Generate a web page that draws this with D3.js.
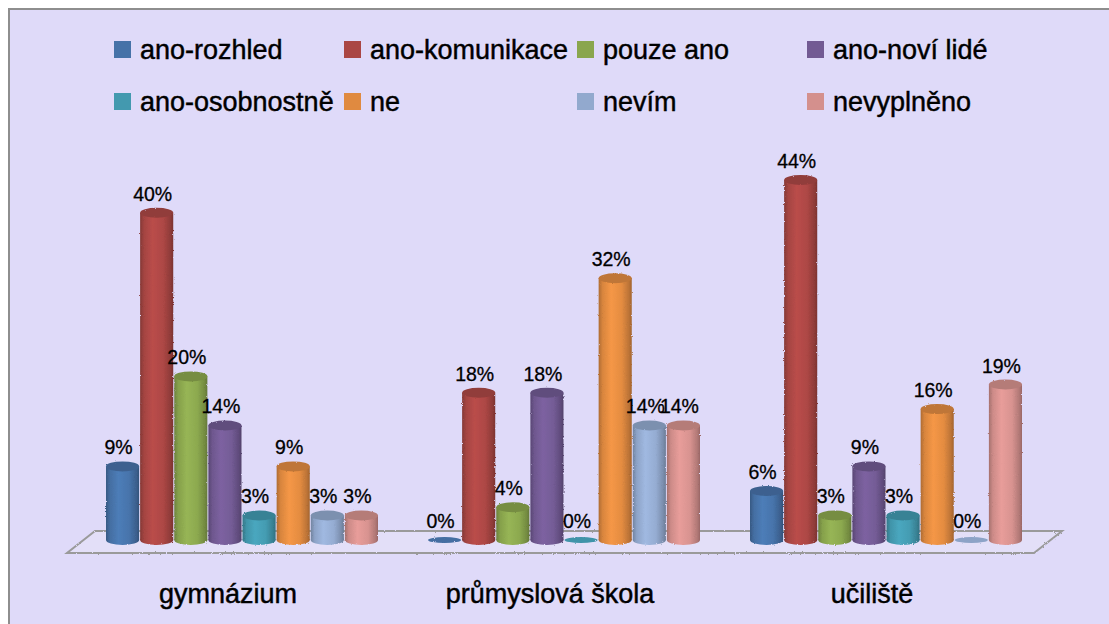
<!DOCTYPE html>
<html>
<head>
<meta charset="utf-8">
<script src="https://d3js.org/d3.v7.min.js"></script>
<style>
  body { margin: 0; background: #fff; }
  text { font-family: "Liberation Sans", Arial, sans-serif; fill: #000; stroke: #000; stroke-width: 0.45px; }
</style>
</head>
<body>
<div id="chart"></div>
<script>
// data
var categories = ['gymnázium', 'průmyslová škola', 'učiliště']
var series = ['ano-rozhled', 'ano-komunikace', 'pouze ano', 'ano-noví lidé',
  'ano-osobnostně', 'ne', 'nevím', 'nevyplněno']
var colors = ['#4672A8', '#AA4644', '#8AA64E', '#725A93', '#4399AF', '#E08A40', '#92A9CE', '#D4908D']

// values per series, in category order
var anoRozhled    = [0.09, 0.00, 0.06]
var anoKomunikace = [0.40, 0.18, 0.44]
var pouzeAno      = [0.20, 0.04, 0.03]
var anoNoviLide   = [0.14, 0.18, 0.09]
var anoOsobnostne = [0.03, 0.00, 0.03]
var ne            = [0.09, 0.32, 0.16]
var nevim         = [0.03, 0.14, 0.00]
var nevyplneno    = [0.03, 0.14, 0.19]
var values = [anoRozhled, anoKomunikace, pouzeAno, anoNoviLide, anoOsobnostne, ne, nevim, nevyplneno]

var width = 1109, height = 624

var svg = d3.select('#chart').append('svg')
  .attr('width', width)
  .attr('height', height)

// frame
svg.append('rect')
  .attr('x', 9).attr('y', 9)
  .attr('width', width + 10).attr('height', height + 10)
  .style('fill', '#DFDAF9')
  .style('stroke', '#8E8E8E')
  .style('stroke-width', 2)

var defs = svg.append('defs')

// rough soft edge around bars and floor
var rough = defs.append('filter').attr('id', 'rough')
  .attr('x', '-20%').attr('y', '-20%').attr('width', '140%').attr('height', '140%')
rough.append('feTurbulence').attr('type', 'fractalNoise').attr('baseFrequency', 0.9)
  .attr('numOctaves', 1).attr('result', 'noise')
rough.append('feDisplacementMap').attr('in', 'SourceGraphic').attr('in2', 'noise')
  .attr('scale', 2.5)

series.forEach(function(s, i) {
  var c = d3.rgb(colors[i])
  var g = defs.append('linearGradient').attr('id', 'cyl' + i)
    .attr('x1', '0%').attr('x2', '100%').attr('y1', '0%').attr('y2', '0%')
  g.append('stop').attr('offset', '0%').attr('stop-color', c.darker(0.7))
  g.append('stop').attr('offset', '12%').attr('stop-color', c.darker(0.1))
  g.append('stop').attr('offset', '38%').attr('stop-color', c.brighter(0.25))
  g.append('stop').attr('offset', '70%').attr('stop-color', c.brighter(0.05))
  g.append('stop').attr('offset', '92%').attr('stop-color', c.darker(0.5))
  g.append('stop').attr('offset', '100%').attr('stop-color', c.darker(0.9))
})

// scales
var x0 = d3.scaleBand().domain(categories).range([81, 1047])
var groupW = 272
var x1 = d3.scaleBand().domain(series).range([0, groupW]).paddingInner(0.03)
var y = d3.scaleLinear().domain([0, 0.5]).range([540, 131])
var ry = 5

// floor
var floorBack = 531, floorFront = 553, floorShift = 28
var floor = d3.path()
floor.moveTo(95, floorBack)
floor.lineTo(1062, floorBack)
floor.lineTo(1062 - floorShift, floorFront)
floor.lineTo(95 - floorShift, floorFront)
floor.closePath()
svg.append('path')
  .attr('d', floor.toString())
  .style('fill', '#E3DFF8')
  .style('stroke', '#9A9A9A')
  .style('stroke-width', 2)
  .attr('filter', 'url(#rough)')

// bars
var bars = []
categories.forEach(function(cat, ci) {
  series.forEach(function(s, si) {
    bars.push({cat: cat, s: s, si: si, v: values[si][ci]})
  })
})

function barX(d) { return x0(d.cat) + (x0.bandwidth() - groupW) / 2 + x1(d.s) }
var bw = x1.bandwidth()

var g = svg.selectAll('.bar').data(bars).enter().append('g')
  .attr('class', 'bar')
  .attr('filter', 'url(#rough)')

g.filter(function(d) { return d.v > 0 }).append('ellipse')
  .attr('cx', function(d) { return barX(d) + bw / 2 })
  .attr('cy', y(0))
  .attr('rx', bw / 2).attr('ry', ry)
  .style('fill', function(d) { return 'url(#cyl' + d.si + ')' })

g.filter(function(d) { return d.v > 0 }).append('rect')
  .attr('x', barX)
  .attr('y', function(d) { return y(d.v) })
  .attr('width', bw)
  .attr('height', function(d) { return y(0) - y(d.v) })
  .style('fill', function(d) { return 'url(#cyl' + d.si + ')' })

g.append('ellipse')
  .attr('cx', function(d) { return barX(d) + bw / 2 })
  .attr('cy', function(d) { return y(d.v) })
  .attr('rx', bw / 2)
  .attr('ry', function(d) { return d.v > 0 ? ry : 3 })
  .style('fill', function(d) { return d3.rgb(colors[d.si]).darker(d.v > 0 ? 0.45 : 0.1) })

// value labels
svg.selectAll('.lbl').data(bars).enter().append('text')
  .attr('class', 'lbl')
  .attr('x', function(d) { return barX(d) + bw / 2 - 4 })
  .attr('y', function(d) { return y(d.v) - 12 })
  .attr('text-anchor', 'middle')
  .style('font-size', '19.5px')
  .style('stroke-width', '0.3px')
  .text(function(d) { return d3.format('.0%')(d.v) })

// category labels
svg.selectAll('.cat').data(categories).enter().append('text')
  .attr('class', 'cat')
  .attr('x', function(d) { return x0(d) + x0.bandwidth() / 2 - 14 })
  .attr('y', 603)
  .attr('text-anchor', 'middle')
  .style('font-size', '27px')
  .text(function(d) { return d })

// legend
var legX = [114, 344, 577, 807]
var legY = [49, 101]
var leg = svg.selectAll('.leg').data(series).enter().append('g')
  .attr('class', 'leg')
  .attr('transform', function(d, i) { return 'translate(' + legX[i % 4] + ',' + legY[Math.floor(i / 4)] + ')' })
leg.append('rect')
  .attr('x', 0).attr('y', -8)
  .attr('width', 17).attr('height', 17)
  .style('fill', function(d, i) { return colors[i] })
leg.append('text')
  .attr('x', 26).attr('y', 10)
  .style('font-size', '27px')
  .text(function(d) { return d })
</script>
</body>
</html>
